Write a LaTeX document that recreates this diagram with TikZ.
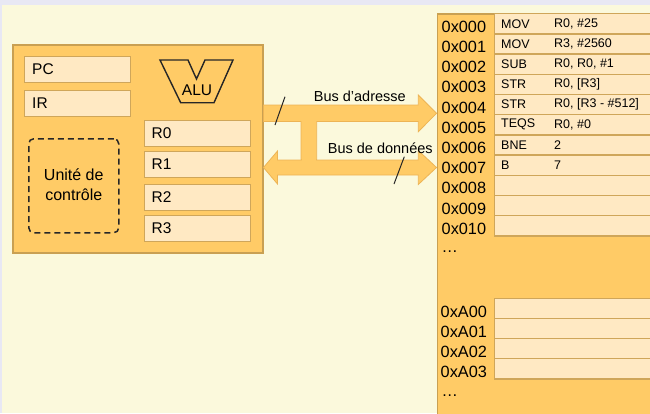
\documentclass[tikz,border=0pt]{standalone}
\usepackage{fontspec}
\setmainfont{Liberation Sans}
\definecolor{bgcream}{HTML}{FBF9DC}
\definecolor{bglav}{HTML}{E8E8F4}
\definecolor{orng}{HTML}{FFCB66}
\definecolor{orngedge}{HTML}{C9A052}
\definecolor{cellfill}{HTML}{FFE9C3}
\definecolor{celledge}{HTML}{CFA65A}
\definecolor{arredge}{HTML}{EDB455}
\begin{document}
\begin{tikzpicture}[x=1pt,y=-1pt,
  cpubox/.style={draw=orngedge,fill=orng,line width=1.5pt,inner sep=0pt,anchor=north west},
  regbox/.style={draw=celledge,fill=cellfill,line width=1.3pt,inner sep=0pt,anchor=north west},
  memcell/.style={draw=celledge,fill=cellfill,line width=1.3pt,inner sep=0pt,anchor=north west,minimum width=170pt,minimum height=20.2pt},
  lbl/.style={font=\fontsize{15.5}{17}\selectfont,anchor=west,inner sep=0pt},
  addr/.style={font=\fontsize{16.3}{18}\selectfont,anchor=west,inner sep=0pt},
  instr/.style={font=\fontsize{12.5}{14}\selectfont,anchor=west,inner sep=0pt},
  buslbl/.style={font=\fontsize{14.5}{16}\selectfont,inner sep=0pt},
  busarrow/.style={fill=orng,draw=arredge,line width=0.8pt,line join=miter},
  slash/.style={draw=black!85,line width=1pt}]
\useasboundingbox (0,0) rectangle (650,413);
% background
\fill[bgcream] (0,0) rectangle (650,413);
\fill[bglav] (0,0) rectangle (650,5);
\fill[bglav] (0,0) rectangle (2,413);

% CPU
\node[cpubox,minimum width=250pt,minimum height=208pt] (cpu) at (12,44) {};
\node[regbox,minimum width=106pt,minimum height=26pt] (pc) at (24,55.5) {};
\node[lbl] at ([xshift=8pt]pc.west) {PC};
\node[regbox,minimum width=106pt,minimum height=26pt] (ir) at (24,90) {};
\node[lbl] at ([xshift=8pt]ir.west) {IR};
\node[draw=black!85,dashed,dash pattern=on 6pt off 4pt,line width=1.5pt,rounded corners=5pt,
      minimum width=90pt,minimum height=94pt,anchor=north west,inner sep=0pt] (ctrl) at (28,138) {};
\node[font=\fontsize{16}{19.5}\selectfont,align=center,inner sep=0pt] at ([yshift=1pt]ctrl.center) {Unité de\\contrôle};
\foreach \n/\y in {0/119.5,1/151,2/183.5,3/214.5}{
  \node[regbox,minimum width=106pt,minimum height=26pt] (r\n) at (144,\y) {};
  \node[lbl] at ([xshift=7.5pt]r\n.west) {R\n};
}
% ALU
\draw[line width=1.4pt,draw=black!85,line join=miter]
  (160,60) -- (188,60) -- (196.5,79) -- (205,60) -- (233,60) -- (214,102.7) -- (180.7,102.7) -- cycle;
\node[font=\fontsize{15.5}{17}\selectfont,inner sep=0pt] (alu) at (197,90.5) {ALU};

% Memory
\node[cpubox,minimum width=230pt,minimum height=420pt] (mem) at (436.5,13) {};
\foreach \i/\a/\op/\arg in {0/0x000/MOV/{R0, \#25},1/0x001/MOV/{R3, \#2560},2/0x002/SUB/{R0, R0, \#1},
  3/0x003/STR/{R0, [R3]},4/0x004/STR/{R0, [R3 - \#512]},5/0x005/TEQS/{R0, \#0},6/0x006/BNE/2,7/0x007/B/7,
  8/0x008//,9/0x009//,10/0x010//}{
  \node[memcell] (m\i) at (494,13+20.2*\i) {};
  \node[addr] at (441.5,13+20.2*\i+13.7) {\a};
  \node[instr] at (501,13+20.2*\i+10.8) {\op};
  \node[instr] at (554,13+20.2*\i+10.8) {\arg};
}
\node[addr] at (441.5,252) {\dots};
\foreach \i/\a in {0/0xA00,1/0xA01,2/0xA02,3/0xA03}{
  \node[memcell] (n\i) at (494,298+20*\i) {};
  \node[addr] at (440.5,298+20*\i+14) {\a};
}
\node[addr] at (441.5,396) {\dots};

% Address bus
\path[busarrow]
  (cpu.east |- 0,105) -- (418.3,105) -- (418.3,95) -- (mem.west |- 0,113.3) -- (418.3,131.7) -- (418.3,121.5)
  -- (316.7,121.5) -- (316.7,160) -- (301,160) -- (301,121.5) -- (cpu.east |- 0,121.5) -- cycle;
% Data bus
\path[busarrow]
  (cpu.east |- 0,167.5) -- (277.5,151) -- (277.5,160) -- (418.3,160) -- (418.3,150.5) -- (mem.west |- 0,167.5)
  -- (418.3,184.5) -- (418.3,175) -- (277.5,175) -- (277.5,184) -- cycle;
\fill[orng] (301.8,120) rectangle (315.9,161);

\node[buslbl] (lab1) at (359.8,96) {Bus d’adresse};
\node[buslbl] (lab2) at (380.3,148) {Bus de données};
\coordinate (s1a) at (285,96.7); \coordinate (s1b) at (275,125);
\coordinate (s2a) at (404.3,156.7); \coordinate (s2b) at (394,184);
\draw[slash] (s1a) -- (s1b);
\draw[slash] (s2a) -- (s2b);
\end{tikzpicture}
\end{document}
